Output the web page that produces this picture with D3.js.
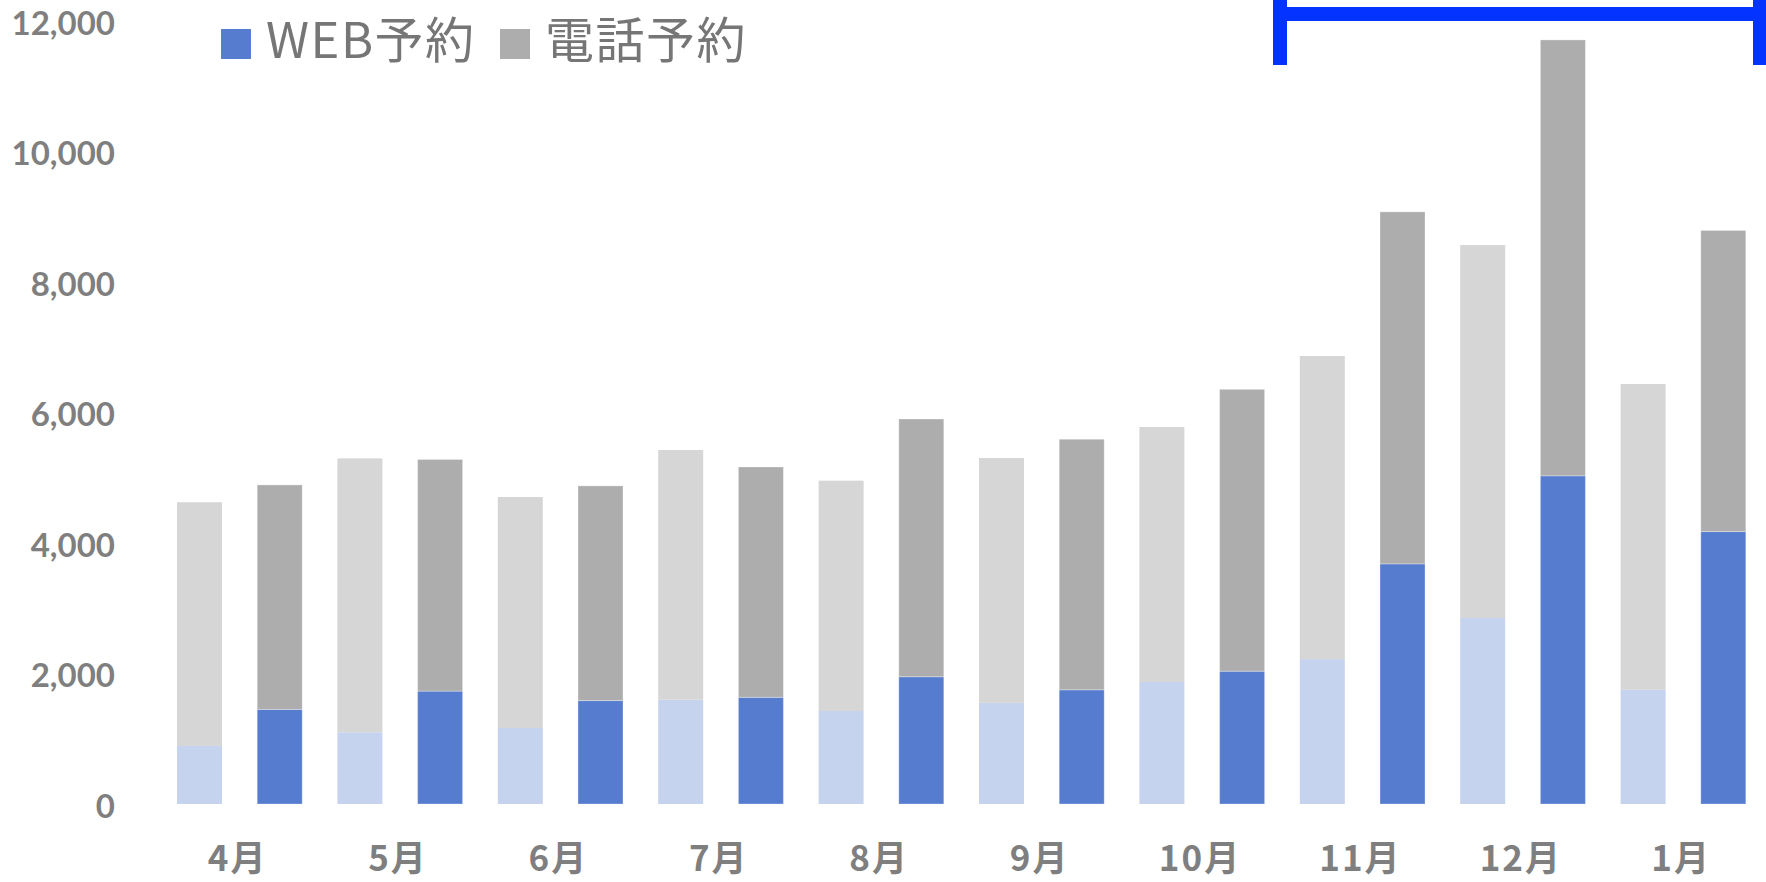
<!DOCTYPE html>
<html>
<head>
<meta charset="utf-8">
<script src="https://cdn.jsdelivr.net/npm/d3@7/dist/d3.min.js"></script>
<style>
  html, body { margin: 0; padding: 0; background: #fff; }
  svg { display: block; }
</style>
</head>
<body>
<svg id="chart" width="1766" height="882"></svg>
<script>
// ---- data ----
const months = ["4月", "5月", "6月", "7月", "8月", "9月", "10月", "11月", "12月", "1月"];
// previous year (light bars)
const prevWeb   = [890, 1100, 1165, 1600, 1425, 1550, 1870, 2220, 2850, 1750];
const prevPhone = [3735, 4197, 3540, 3825, 3530, 3753, 3908, 4646, 5717, 4687];
// current year (dark bars)
const currWeb   = [1450, 1730, 1585, 1635, 1950, 1750, 2035, 3680, 5030, 4175];
const currPhone = [3440, 3550, 3290, 3530, 3950, 3840, 4320, 5395, 6680, 4615];
const yTicks = [0, 2000, 4000, 6000, 8000, 10000, 12000];
const legendLabels = ["WEB予約", "電話予約"];
const periods = ["prev", "curr"];

// ---- styles ----
const colors = {
  prev: { web: "#C5D3EE", phone: "#D6D6D6" },
  curr: { web: "#557CCE", phone: "#ADADAD" }
};
const textColor = "#7F7F7F";

const svg = d3.select("#chart");

const y = d3.scaleLinear().domain([0, 12000]).range([804, 21]);
const x0 = d3.scaleBand().domain(months).range([159.4, 1763.4]).padding(0);
const x1 = d3.scaleBand().domain(periods).range([0, x0.bandwidth()]).padding(0);
const barW = x1.bandwidth() * 0.561;

// build rows
const rows = months.map((m, i) => ({
  month: m,
  prev: { web: prevWeb[i], phone: prevPhone[i] },
  curr: { web: currWeb[i], phone: currPhone[i] }
}));

const stack = d3.stack().keys(["web", "phone"]);

periods.forEach(p => {
  const series = stack(rows.map(r => r[p]));
  series.forEach(s => {
    svg.append("g")
      .selectAll("rect")
      .data(s)
      .join("rect")
      .attr("x", (d, i) => x0(months[i]) + x1(p) + (x1.bandwidth() - barW) / 2)
      .attr("width", barW)
      .attr("y", d => y(d[1]))
      .attr("height", d => y(d[0]) - y(d[1]))
      .attr("fill", colors[p][s.key])
      .attr("stroke", p === "curr" ? "rgba(255,255,255,0.3)" : "none")
      .attr("stroke-width", 1);
  });
});

// y axis
const yAxis = svg.append("g")
  .attr("transform", "translate(121,0)")
  .call(d3.axisLeft(y).tickValues(yTicks).tickSize(0).tickPadding(6).tickFormat(d3.format(",")));
yAxis.select(".domain").remove();
yAxis.selectAll("text")
  .attr("fill", textColor)
  .attr("dy", null)
  .attr("dominant-baseline", "central")
  .style("font-family", "Lato, 'Open Sans', sans-serif")
  .style("font-weight", "700")
  .style("font-size", "33px");

// x axis
const xAxis = svg.append("g")
  .attr("transform", "translate(-2,804)")
  .call(d3.axisBottom(x0).tickSize(0));
xAxis.select(".domain").remove();
xAxis.selectAll("text")
  .attr("fill", textColor)
  .attr("y", 67)
  .attr("dy", null)
  .style("font-family", "'Noto Sans CJK JP', sans-serif")
  .style("font-weight", "700")
  .style("font-size", "35px")
  .style("letter-spacing", "2px");

// legend
const legendItems = [
  { label: legendLabels[0], color: colors.curr.web, x: 221 },
  { label: legendLabels[1], color: colors.curr.phone, x: 500 }
];
const lg = svg.append("g").selectAll("g").data(legendItems).join("g")
  .attr("transform", d => `translate(${d.x},29)`);
lg.append("rect").attr("width", 30).attr("height", 30).attr("fill", d => d.color);
lg.append("text")
  .attr("x", 45)
  .attr("y", 29)
  .attr("fill", "#767676")
  .style("font-family", "'Noto Sans CJK JP', sans-serif")
  .style("font-weight", "400")
  .style("font-size", "49px")
  .style("letter-spacing", "1.5px")
  .text(d => d.label);

// bracket annotation (11月〜1月)
const br = svg.append("g").attr("fill", "#0433FF");
br.append("rect").attr("x", 1273).attr("y", -2).attr("width", 14).attr("height", 67);
br.append("rect").attr("x", 1753).attr("y", -2).attr("width", 14).attr("height", 67);
br.append("rect").attr("x", 1273).attr("y", 7).attr("width", 494).attr("height", 14);
</script>
</body>
</html>
